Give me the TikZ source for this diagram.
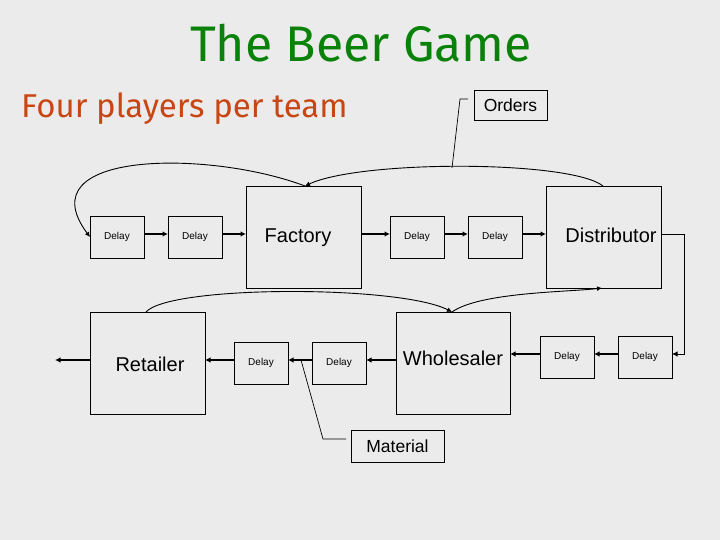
\documentclass[tikz,border=0pt]{standalone}
\usepackage{fontspec}
\setmainfont{Liberation Sans}
\newfontfamily\titlefont{Fira Sans}
\usetikzlibrary{arrows.meta}
\definecolor{bgc}{RGB}{235,235,235}
\definecolor{titlegreen}{RGB}{10,130,10}
\definecolor{subred}{RGB}{200,70,20}
\tikzset{
  box/.style={draw=black, line width=0.9pt, inner sep=0pt, outer sep=0pt},
  delaybox/.style={box, minimum width=54pt, minimum height=42pt, font=\fontsize{10}{12}\selectfont},
  bigbox/.style={box, minimum width=115pt, minimum height=102pt},
  lblbox/.style={box, font=\fontsize{17.5}{20}\selectfont},
  bigtext/.style={inner sep=0pt, anchor=base, font=\fontsize{20}{24}\selectfont},
  flow/.style={line width=1.6pt, -{Latex[length=5.5pt,width=5.5pt]}},
  info/.style={line width=0.9pt, -{Latex[length=5pt,width=5pt]}},
  leader/.style={line width=0.7pt}
}
\begin{document}
\begin{tikzpicture}[x=1pt,y=-1pt]
\fill[bgc] (0,0) rectangle (720,540);
\useasboundingbox (0,0) rectangle (720,540);

% titles
\node[text=titlegreen, anchor=base, inner sep=0pt, font=\titlefont\fontsize{50}{60}\selectfont] (title) at (361,62) {The Beer Game};
\node[text=subred, anchor=base west, inner sep=0pt, font=\titlefont\fontsize{33}{40}\selectfont] (sub) at (21,118) {Four players per team};

% top row
\node[delaybox] (D1) at (117,237) {Delay};
\node[delaybox] (D2) at (195,237) {Delay};
\node[bigbox] (Fac) at (303.5,237) {};
\node[delaybox] (D3) at (417,237) {Delay};
\node[delaybox] (D4) at (495,237) {Delay};
\node[bigbox] (Dist) at (603.5,237) {};
\node[bigtext] (FacT) at (298,243) {Factory};
\node[bigtext] (DistT) at (611,243) {Distributor};

% bottom row
\node[bigbox] (Ret) at (147.5,363) {};
\node[delaybox] (D5) at (261,363) {Delay};
\node[delaybox] (D6) at (339,363) {Delay};
\node[bigbox, minimum width=114pt] (Whol) at (453,363) {};
\node[delaybox] (D7) at (567,357) {Delay};
\node[delaybox] (D8) at (645,357) {Delay};
\node[bigtext] (RetT) at (150,371) {Retailer};
\node[bigtext] (WholT) at (453,365) {Wholesaler};

% labels
\node[lblbox, minimum width=73pt, minimum height=30pt] (Ord) at (510.5,105) {Orders};
\node[lblbox, minimum width=93pt, minimum height=32pt] (Mat) at (397.5,446) {Material};

% material flow
\draw[flow] ([yshift=3pt]D1.east) -- ([yshift=3pt]D2.west);
\draw[flow] ([yshift=3pt]D2.east) -- ([yshift=3pt]Fac.west);
\draw[flow] ([yshift=3pt]Fac.east) -- ([yshift=3pt]D3.west);
\draw[flow] ([yshift=3pt]D3.east) -- ([yshift=3pt]D4.west);
\draw[flow] ([yshift=3pt]D4.east) -- ([yshift=3pt]Dist.west);
\coordinate (corner) at (684,234);
\draw[flow, line width=1pt] ([yshift=3pt]Dist.east) -- (corner) |- ([yshift=3pt]D8.east);
\draw[flow] ([yshift=3pt]D8.west) -- ([yshift=3pt]D7.east);
\coordinate (wholIn) at (510,354);
\draw[flow] ([yshift=3pt]D7.west) -- (wholIn);
\draw[flow] ([yshift=3pt]Whol.west) -- ([yshift=3pt]D6.east);
\draw[flow] ([yshift=3pt]D6.west) -- ([yshift=3pt]D5.east);
\draw[flow] ([yshift=3pt]D5.west) -- ([yshift=3pt]Ret.east);
\coordinate (out) at (55,360);
\draw[flow] ([yshift=3pt]Ret.west) -- (out);

% order flow
\coordinate (facTop) at (305,186);
\coordinate (wholTop) at (452,312);
\coordinate (distTop) at (603,186);
\coordinate (distBot) at (602,288);
\coordinate (retTop) at (146,312);
\draw[info] (facTop) .. controls (210,150) and (25,150) .. (D1.west);
\draw[info] (distTop) .. controls (570,160) and (360,160) .. (facTop);
\draw[info] (retTop) .. controls (170,285) and (400,285) .. (wholTop);
\draw[info] (wholTop) .. controls (480,292) and (570,292) .. (distBot);

% leaders
\coordinate (ordFoot) at (452,168);
\draw[leader] ([xshift=-6pt,yshift=6pt]Ord.west) -- ++(-8,0) -- (ordFoot);
\coordinate (matFoot) at (301,360);
\draw[leader] ([xshift=-5pt,yshift=7pt]Mat.west) -- ++(-23,0) -- (matFoot);
\end{tikzpicture}
\end{document}
